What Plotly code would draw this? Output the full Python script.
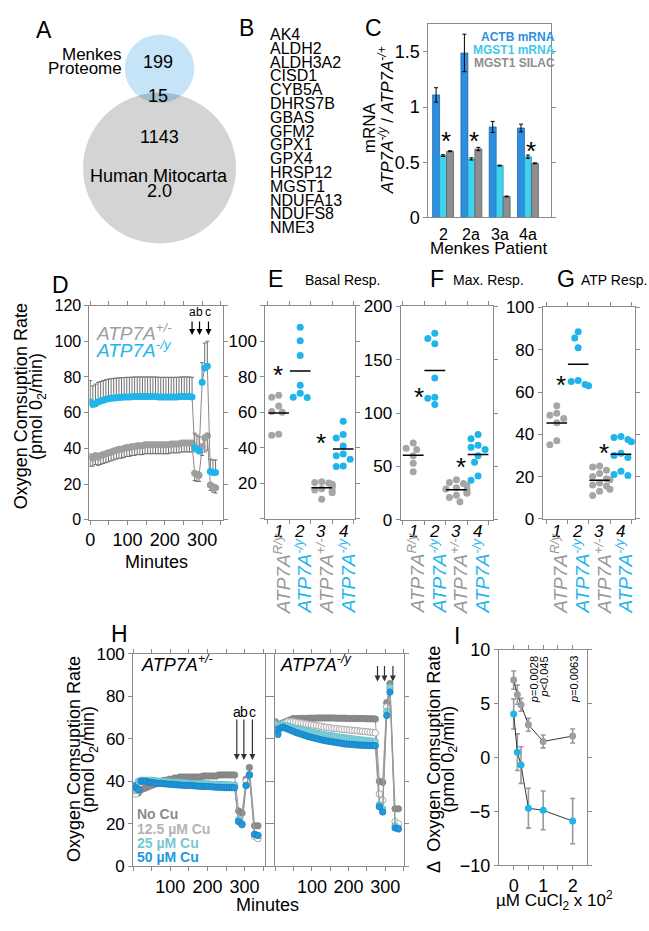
import numpy as np
import plotly.graph_objects as go

W, H = 649, 931
FONT = "Arial, Liberation Sans, sans-serif"
AXC = "#8a8a8a"
GRAY = "#9e9e9e"
BLUE = "#1fb4ea"

# ---------------- data ----------------
venn_counts = [199, 15, 1143]
genes = ["AK4", "ALDH2", "ALDH3A2", "CISD1", "CYB5A", "DHRS7B", "GBAS", "GFM2",
         "GPX1", "GPX4", "HRSP12", "MGST1", "NDUFA13", "NDUFS8", "NME3"]

c_patients = ["2", "2a", "3a", "4a"]
c_actb = [1.11, 1.49, 0.82, 0.81]
c_actb_err = [0.065, 0.17, 0.05, 0.035]
c_mgst1 = [0.56, 0.53, 0.47, 0.55]
c_mgst1_err = [0.008, 0.01, 0.004, 0.015]
c_silac = [0.60, 0.62, 0.19, 0.49]
c_silac_err = [0.004, 0.015, 0.004, 0.004]
c_star_y = [0.75, 0.75, None, 0.66]

d_time = [0, 7, 14, 21, 28, 35, 42, 49, 56, 63, 70, 77, 84, 91, 98, 105, 112, 119, 126, 133,
          140, 147, 154, 161, 168, 175, 182, 189, 196, 203, 210, 217, 224, 231, 238, 245, 252, 259, 266, 273,
          280, 286, 292, 300, 307, 314, 322, 329, 336]
d_het = [35.5, 34.5, 36, 35, 36, 36.5, 37, 37.5, 38, 38.5, 39, 39.5, 39.5, 40, 40.5, 40.5, 41, 41, 41.5, 41.5,
         41.5, 42, 42, 42, 42, 42, 42, 42, 42, 42, 42, 42.5, 42.5, 42.5, 42.5, 43, 43, 43, 43, 43,
         26, 25.5, 25, 41, 46, 47, 19.5, 18.5, 18]
d_het_err = [5.5, 4.5, 5, 4.5, 5, 5, 5, 5, 5, 5, 5, 5, 5, 5, 5, 5, 5, 5, 5, 5,
             5, 5, 5, 5, 5, 5, 5, 5, 5, 5, 5, 5, 5, 5, 5, 5, 5, 5, 5, 5,
             4, 4, 3.5, 5, 8, 8, 3, 3, 3]
d_ko = [66, 64.5, 65, 66, 66.5, 67, 67.5, 67.8, 68, 68.2, 68.4, 68.5, 68.6, 68.7, 68.8, 68.8, 68.9, 69, 69, 69,
        69, 69, 69, 69, 69, 69, 68.8, 68.8, 68.8, 68.8, 68.8, 68.8, 68.8, 68.8, 68.9, 69, 69, 69, 69, 68.8,
        40.5, 39.5, 38.5, 77, 85, 86, 27, 26.5, 26.5]
d_ko_err = [12, 10.5, 11, 11, 11, 11, 11, 11, 11, 11, 11, 11, 11, 11, 11, 11, 11, 11, 11, 11,
            11, 11, 11, 11, 11, 11, 11, 11, 11, 11, 11, 11, 11, 11, 11, 11, 11, 11, 11, 11,
            8, 8, 8, 11, 14, 14, 7, 7, 7]
d_inject = ["a", "b", "c"]
d_inject_time = [273, 293, 317]

groups = ["1", "2", "3", "4"]
group_labels = ["<i>ATP7A<sup>R/y</sup></i>", "<i>ATP7A<sup>-/y</sup></i>",
                "<i>ATP7A<sup>+/-</sup></i>", "<i>ATP7A<sup>-/y</sup></i>"]
group_is_ko = [False, True, False, True]
e_basal = [[69.5, 68.4, 63.5, 60.4, 60, 47.6, 47],
           [107.8, 100.2, 91.9, 75.1, 70.7, 68.4, 68.2],
           [20.9, 20.5, 20.2, 19.4, 19.0, 18.5, 17.5, 16.9, 16.2, 15.5, 14.7, 11.0],
           [54.9, 47.5, 45.5, 41.0, 36.5, 35.5, 33.5, 29.7, 29.5]]
f_max = [[72, 67, 66, 60, 53, 45],
         [175, 170, 165, 133, 115, 114, 108],
         [37.5, 35, 34, 32, 30, 29, 28, 26, 25, 23, 21, 17],
         [80, 76, 70, 68, 66, 60, 54, 41, 37]]
g_atp = [[53.5, 50, 49, 47.5, 45.5, 37, 35],
         [88.5, 85.5, 81, 65.5, 65, 63.5, 63],
         [25, 24.5, 23, 21.5, 20, 19, 18.5, 17, 16, 15.5, 14, 13, 11],
         [39, 38.5, 37.5, 36.5, 31, 30, 29, 22.5, 21, 20.5]]
e_stars = [(0.95, 84.5), (2.95, 46)]
f_stars = [(1.26, 121), (3.23, 55)]
g_stars = [(1.19, 66), (3.2, 34)]

h_time = [0, 7, 14, 21, 28, 35, 42, 49, 56, 63, 70, 77, 84, 91, 98, 105, 112, 119, 126, 133,
          140, 147, 154, 161, 168, 175, 182, 189, 196, 203, 210, 217, 224, 231, 238, 245, 252, 259, 266, 273,
          284, 293, 304, 313, 327, 336]
h_cu = ["No Cu", "12.5 \u00b5M Cu", "25 \u00b5M Cu", "50 \u00b5M Cu"]
h_het = [
    [36, 35, 34.5, 36, 36.5, 37, 37.5, 38, 38.5, 39, 39.5, 40, 40.5, 40.5, 41, 41, 41.5, 41.5, 42, 42,
     42, 42, 42, 42, 42, 42, 42, 42.5, 42.5, 42.5, 42.5, 42.5, 42.5, 43, 43, 43, 43, 43, 43, 43,
     26, 25, 41, 46.5, 19, 19],
    [35, 34, 39.5, 40, 40, 40, 40, 40, 40, 40, 39.8, 39.8, 39.8, 39.6, 39.6, 39.5, 39.5, 39.5, 39.4, 39.3,
     39.2, 39, 39, 39, 39, 38.8, 38.8, 38.8, 38.6, 38.6, 38.5, 38.5, 38.5, 38.4, 38.3, 38.2, 38, 38, 38, 38,
     21, 20, 40, 43, 14, 13],
    [36.5, 35.5, 40, 40.5, 40.5, 40.5, 40.5, 40.5, 40.3, 40.2, 40, 40, 40, 39.8, 39.8, 39.6, 39.5, 39.5, 39.4, 39.3,
     39.2, 39.1, 39, 39, 39, 39, 38.9, 38.8, 38.8, 38.7, 38.6, 38.6, 38.5, 38.5, 38.5, 38.4, 38.4, 38.3, 38.2, 38.2,
     22, 20, 38, 43, 15, 14.5],
    [38, 37, 36, 40, 40, 40, 39.5, 39.5, 39.3, 39, 39, 39, 38.8, 38.7, 38.6, 38.5, 38.4, 38.3, 38.2, 38.1,
     38, 38, 38, 37.9, 37.8, 37.7, 37.6, 37.5, 37.5, 37.5, 37.4, 37.3, 37.2, 37.2, 37.1, 37, 37, 37, 37, 37,
     21, 19.5, 38, 43, 15, 14.5],
]
h_ko = [
    [68, 66, 67, 67.5, 68, 68.5, 69, 69.5, 69.5, 69.5, 69.6, 69.6, 69.6, 69.7, 69.7, 69.7, 69.8, 69.8, 69.8, 69.8,
     69.8, 69.8, 69.8, 69.8, 69.7, 69.7, 69.7, 69.7, 69.6, 69.6, 69.6, 69.6, 69.5, 69.5, 69.5, 69.5, 69.4, 69.4, 69.4, 69.3,
     40, 39.5, 77, 86, 27, 27],
    [66, 64, 66.5, 67, 67.5, 68, 68, 68, 67.8, 67.6, 67.4, 67.2, 67, 66.8, 66.6, 66.4, 66.2, 66, 65.8, 65.6,
     65.4, 65.2, 65, 64.9, 64.8, 64.6, 64.5, 64.4, 64.3, 64.1, 64, 63.9, 63.8, 63.6, 63.5, 63.4, 63.3, 63.1, 63, 62.8,
     34, 31, 75, 84, 21, 20],
    [67, 63, 66, 66.5, 66.2, 66, 65.6, 65.2, 64.9, 64.6, 64.3, 64, 63.7, 63.5, 63.2, 63, 62.7, 62.5, 62.2, 62,
     61.8, 61.6, 61.4, 61.2, 61, 60.8, 60.7, 60.5, 60.3, 60.2, 60, 59.9, 59.7, 59.6, 59.4, 59.3, 59.2, 59, 58.9, 58.7,
     29, 27, 73, 84, 19, 18],
    [64.5, 62, 65, 65.5, 65, 64.5, 64, 63.5, 63, 62.6, 62.2, 61.8, 61.4, 61, 60.7, 60.4, 60.1, 59.8, 59.5, 59.2,
     59, 58.8, 58.6, 58.4, 58.2, 58, 57.8, 57.6, 57.5, 57.4, 57.3, 57.2, 57.1, 57, 57, 56.9, 56.9, 56.8, 56.8, 56.7,
     28, 25.5, 71, 82, 18, 17.5],
]
h_inject_time = [279, 298, 321]

i_cu = [0, 0.125, 0.25, 0.5, 1, 2]
i_het = [7.2, 5.85, 4.9, 3.05, 1.5, 2.0]
i_het_err = [0.85, 0.9, 0.6, 0.6, 0.6, 0.65]
i_ko = [4.05, 0.5, -0.7, -4.7, -4.9, -5.9]
i_ko_err = [1.4, 1.7, 1.7, 1.85, 1.8, 2.1]
i_pvals = [(0.7, "<i>p</i>=0.0028"), (1.02, "<i>p</i>&lt;0.045"), (2.05, "<i>p</i>=0.0063")]

# ---------------- helpers ----------------
def px(x):
    return x / W

def py(y):
    return 1 - y / H

def dom_x(a, b):
    return [a / W, b / W]

def dom_y(top, bot):
    return [1 - bot / H, 1 - top / H]

annotations = []
shapes = []

def txt(x, y, s, size=16, color="black", xanchor="center", yanchor="middle", angle=0, **kw):
    annotations.append(dict(x=px(x), y=py(y), xref="paper", yref="paper", text=s, showarrow=False,
                            font=dict(size=size, color=color, family=FONT), xanchor=xanchor,
                            yanchor=yanchor, textangle=angle, borderpad=0, **kw))

def axis(**kw):
    d = dict(showline=True, linecolor=AXC, linewidth=1, mirror="ticks", ticks="outside", ticklen=4,
             tickcolor=AXC, tickwidth=1, zeroline=False, showgrid=False,
             tickfont=dict(size=17, color="black", family=FONT), fixedrange=True)
    d.update(kw)
    return d

fig = go.Figure()

# ---------------- A: Venn ----------------
c1, r1 = (156.5, 60.0), 35.0
c2, r2 = (156.5, 161.5), 77.0
for (cx, cy), r, col in [(c2, r2, "#d4d4d4"), (c1, r1, "#c6e4f8")]:
    shapes.append(dict(type="circle", xref="paper", yref="paper", x0=px(cx - r), x1=px(cx + r),
                       y0=py(cy + r), y1=py(cy - r), fillcolor=col, line=dict(width=0), layer="below"))
dd = c2[1] - c1[1]
aa = (r1 ** 2 - r2 ** 2 + dd ** 2) / (2 * dd)
hh = np.sqrt(r1 ** 2 - aa ** 2)
yi = c1[1] + aa
t = np.linspace(np.arctan2(aa, hh), np.arctan2(aa, -hh), 40)
pts = [(c1[0] + r1 * np.cos(v), c1[1] + r1 * np.sin(v)) for v in t]
s = np.linspace(np.arctan2(yi - c2[1], -hh), np.arctan2(yi - c2[1], hh), 40)
pts += [(c2[0] + r2 * np.cos(v), c2[1] + r2 * np.sin(v)) for v in s]
path = "M " + " L ".join(f"{px(x):.5f},{py(y):.5f}" for x, y in pts) + " Z"
shapes.append(dict(type="path", xref="paper", yref="paper", path=path, fillcolor="#a3bccc",
                   line=dict(width=0), layer="below"))
txt(40, 20, "A", size=23)
txt(120, 45, "Menkes", size=17, xanchor="right")
txt(120, 60, "Proteome", size=17, xanchor="right")
txt(155, 53, str(venn_counts[0]), size=18)
txt(155, 88, str(venn_counts[1]), size=18)
txt(156, 130, str(venn_counts[2]), size=18)
txt(156, 170, "Human Mitocarta", size=18)
txt(156, 185, "2.0", size=18)

# ---------------- B: gene list ----------------
txt(244, 18, "B", size=23)
for k, g in enumerate(genes):
    txt(267, 25 + k * 14.1, g, size=16, xanchor="left")

# ---------------- C: bars ----------------
txt(372, 18, "C", size=23)
for name, vals, err, col, lc in [("ACTB mRNA", c_actb, c_actb_err, "#2c8fe0", "#1b5f9e"),
                                 ("MGST1 mRNA", c_mgst1, c_mgst1_err, "#3fd2f2", "#2a8fa8"),
                                 ("MGST1 SILAC", c_silac, c_silac_err, "#8e8e8e", "#555555")]:
    fig.add_trace(go.Bar(x=list(range(len(c_patients))), y=vals, name=name,
                         marker=dict(color=col, line=dict(color=lc, width=0.7)),
                         error_y=dict(type="data", array=err, color="black", thickness=1, width=2),
                         xaxis="x", yaxis="y", showlegend=False))
for k, sy in enumerate(c_star_y):
    if sy is not None:
        annotations.append(dict(x=k + 0.1, y=sy, xref="x", yref="y", text="*", showarrow=False,
                                font=dict(size=26, family=FONT, color="black"), yshift=-6))
for k, lab in enumerate(c_patients):
    annotations.append(dict(x=k, y=py(220), xref="x", yref="paper", text=lab, showarrow=False,
                            font=dict(size=16, family=FONT, color="black"), borderpad=0))
txt(555, 28, "<b>ACTB mRNA</b>", size=12, color="#2c8fe0", xanchor="right")
txt(555, 41, "<b>MGST1 mRNA</b>", size=12, color="#3fc8ea", xanchor="right")
txt(555, 54, "<b>MGST1 SILAC</b>", size=12, color="#8e8e8e", xanchor="right")
txt(368, 120, "mRNA", size=17, angle=-90)
txt(384, 113, "<i>ATP7A<sup>-/y</sup></i> / <i>ATP7A<sup>-/+</sup></i>", size=17, angle=-90)
txt(488, 244, "Menkes Patient", size=17)

# ---------------- D ----------------
txt(57, 281, "D", size=23)
fig.add_trace(go.Scatter(x=d_time, y=d_het, mode="lines+markers", line=dict(color="#8a8a8a", width=1),
                         marker=dict(color=GRAY, size=7),
                         error_y=dict(type="data", symmetric=False, array=[0] * len(d_het_err),
                                      arrayminus=d_het_err, color="#707070", thickness=1, width=2),
                         xaxis="x2", yaxis="y2", showlegend=False))
fig.add_trace(go.Scatter(x=d_time, y=d_ko, mode="lines+markers", line=dict(color="#8a8a8a", width=1),
                         marker=dict(color=BLUE, size=7),
                         error_y=dict(type="data", symmetric=False, array=d_ko_err,
                                      arrayminus=[0] * len(d_ko_err), color="#707070", thickness=1, width=2),
                         xaxis="x2", yaxis="y2", showlegend=False))
for lab, tm in zip(d_inject, d_inject_time):
    annotations.append(dict(x=tm, y=103.5, xref="x2", yref="y2", ax=0, ay=-15, text="",
                            showarrow=True, arrowhead=2, arrowsize=1, arrowwidth=1.2, arrowcolor="black"))
    annotations.append(dict(x=tm, y=116.5, xref="x2", yref="y2", text=lab, showarrow=False,
                            font=dict(size=12, family=FONT, color="black"), borderpad=0))
txt(92, 329, "<i>ATP7A<sup>+/-</sup></i>", size=19, color=GRAY, xanchor="left")
txt(92, 346, "<i>ATP7A<sup>-/y</sup></i>", size=19, color=BLUE, xanchor="left")
txt(17, 405, "Oxygen Comsuption Rate", size=18, angle=-90)
txt(34, 405, "(pmol 0<sub>2</sub>/min)", size=18, angle=-90)
txt(153, 564, "Minutes", size=18)

# ---------------- E, F, G ----------------
def swarm(vals, center, ppu_y, ppu_x=21.6, d=7.0):
    order = sorted(range(len(vals)), key=lambda i: -vals[i])
    placed = []
    xs = [0.0] * len(vals)
    cands = [0, -3.5, 3.5, -7, 7, -10.5, 10.5]
    for i in order:
        yy = vals[i] * ppu_y
        for c in cands:
            if all((c - ox) ** 2 + (yy - oy) ** 2 >= d * d for ox, oy in placed):
                break
        placed.append((c, yy))
        xs[i] = center + c / ppu_x
    return xs

panels = [("x3", "y3", e_basal, e_stars, 1.825), ("x4", "y4", f_max, f_stars, 1.0835),
          ("x5", "y5", g_atp, g_stars, 2.16)]
for xa, ya, data, stars, ppu in panels:
    mx, my = [], []
    for k, vals in enumerate(data):
        xs = swarm(vals, k + 1, ppu)
        fig.add_trace(go.Scatter(x=xs, y=vals, mode="markers",
                                 marker=dict(color=BLUE if group_is_ko[k] else "#a6a6a6", size=7),
                                 xaxis=xa, yaxis=ya, showlegend=False))
        m = float(np.mean(vals))
        mx += [k + 1 - 0.48, k + 1 + 0.48, None]
        my += [m, m, None]
    fig.add_trace(go.Scatter(x=mx, y=my, mode="lines", line=dict(color="black", width=1.5),
                             xaxis=xa, yaxis=ya, showlegend=False))
    for sx, sy in stars:
        annotations.append(dict(x=sx, y=sy, xref=xa, yref=ya, text="*", showarrow=False,
                                font=dict(size=26, family=FONT, color="black"), yshift=-6))

cat_px = {"x3": [276.7, 297.7, 319.3, 341.7], "x4": [411.7, 433.3, 455, 476.7], "x5": [556, 577.3, 599, 620.7]}
for xa, cps in cat_px.items():
    for k, cx in enumerate(cps):
        txt(cx, 533, f"<i>{groups[k]}</i>", size=17)
        txt(cx + 3, 618, group_labels[k], size=19, color=BLUE if group_is_ko[k] else "#999999",
            angle=-90, yanchor="bottom")
txt(273, 275, "E", size=23)
txt(341, 276, "Basal Resp.", size=14)
txt(436, 275, "F", size=23)
txt(488, 276, "Max. Resp.", size=14)
txt(565, 275, "G", size=23)
txt(614, 276, "ATP Resp.", size=14)

# ---------------- H ----------------
txt(116, 638, "H", size=23)
h_styles = [dict(color="#8c8c8c", line=dict(color="#7a7a7a", width=0.6)),
            dict(color="white", line=dict(color="#a8a8a8", width=1)),
            dict(color="#7dd2de", line=dict(color="#5ab8c6", width=0.6)),
            dict(color="#1e98de", line=dict(color="#1577b0", width=0.6))]
for xa, ya, series in [("x6", "y6", h_het), ("x7", "y7", h_ko)]:
    for k, vals in enumerate(series):
        fig.add_trace(go.Scatter(x=h_time, y=vals, mode="lines+markers", line=dict(color="#9a9a9a", width=1),
                                 marker=dict(size=6.5, **h_styles[k]), xaxis=xa, yaxis=ya, showlegend=False))
for lab, tm in zip(d_inject, h_inject_time):
    annotations.append(dict(x=tm, y=50, xref="x6", yref="y6", ax=0, ay=-42, text="", showarrow=True,
                            arrowhead=2, arrowsize=1, arrowwidth=1.2, arrowcolor="#333333"))
    annotations.append(dict(x=tm, y=72.5, xref="x6", yref="y6", text=lab, showarrow=False,
                            font=dict(size=14, family=FONT, color="black"), borderpad=0))
    annotations.append(dict(x=tm, y=87, xref="x7", yref="y7", ax=0, ay=-17, text="", showarrow=True,
                            arrowhead=2, arrowsize=1, arrowwidth=1.2, arrowcolor="#333333"))
    annotations.append(dict(x=tm, y=104.5, xref="x7", yref="y7", text=lab, showarrow=False,
                            font=dict(size=14, family=FONT, color="black"), borderpad=0))
txt(137, 668, "<i>ATP7A<sup>+/-</sup></i>", size=18, xanchor="left")
txt(277, 668, "<i>ATP7A<sup>-/y</sup></i>", size=18, xanchor="left")
h_cols = ["#8c8c8c", "#b4b4b4", "#76c8cf", "#1e98de"]
for k, lab in enumerate(h_cu):
    txt(133, 822 + k * 14.7, f"<b>{lab}</b>", size=14, color=h_cols[k], xanchor="left")
txt(70, 766, "Oxygen Comsuption Rate", size=18, angle=-90)
txt(86, 766, "(pmol 0<sub>2</sub>/min)", size=18, angle=-90)
txt(265, 915, "Minutes", size=18)

# ---------------- I ----------------
txt(456, 640, "I", size=23)
fig.add_trace(go.Scatter(x=i_cu, y=i_het, mode="lines+markers", line=dict(color="#222222", width=0.9),
                         marker=dict(color=GRAY, size=7),
                         error_y=dict(type="data", array=i_het_err, color="#999999", thickness=1.6, width=2.5),
                         xaxis="x8", yaxis="y8", showlegend=False))
fig.add_trace(go.Scatter(x=i_cu, y=i_ko, mode="lines+markers", line=dict(color="#222222", width=0.9),
                         marker=dict(color=BLUE, size=7),
                         error_y=dict(type="data", array=i_ko_err, color="#999999", thickness=1.6, width=2.5),
                         xaxis="x8", yaxis="y8", showlegend=False))
for xv, lab in i_pvals:
    annotations.append(dict(x=xv, y=9.5, xref="x8", yref="y8", text=lab, showarrow=False, textangle=-90,
                            yanchor="top", borderpad=0, font=dict(size=11, family=FONT, color="black")))
txt(432, 766, "\u0394  Oxygen Comsuption Rate", size=18, angle=-90)
txt(448, 766, "(pmol 0<sub>2</sub>/min)", size=18, angle=-90)
txt(554, 910, "\u00b5M CuCl<sub>2</sub> x 10<sup>2</sup>", size=17)

# ---------------- layout ----------------
fig.update_layout(
    width=W, height=H, margin=dict(l=0, r=0, t=0, b=0), paper_bgcolor="white", plot_bgcolor="white",
    font=dict(family=FONT, color="black"), barmode="group", bargap=0.26, bargroupgap=0.0,
    annotations=annotations, shapes=shapes,
    xaxis=axis(domain=dom_x(427, 550), anchor="y", range=[-0.52, 3.8], ticks="", mirror=True,
               showticklabels=False),
    yaxis=axis(domain=dom_y(14, 212), anchor="x", range=[0, 1.755], tickvals=[0, 0.5, 1, 1.5],
               ticktext=["0", "0.5", "1", "1.5"], tickfont=dict(size=18, family=FONT, color="black")),
    xaxis2=axis(domain=dom_x(86, 220), anchor="y2", range=[-2, 355], tickvals=[0, 50, 100, 150, 200, 250, 300, 350],
                ticktext=["0", "", "100", "", "200", "", "300", ""], tickfont=dict(size=18, family=FONT, color="black")),
    yaxis2=axis(domain=dom_y(302, 521), anchor="x2", range=[0, 120], dtick=20,
                tickfont=dict(size=16, family=FONT, color="black")),
    xaxis3=axis(domain=dom_x(263, 353), anchor="y3", range=[0.38, 4.54], tickvals=[0.5, 1.5, 2.5, 3.5, 4.5],
                showticklabels=False),
    yaxis3=axis(domain=dom_y(302, 520), anchor="x3", range=[0, 120], tickvals=[0, 20, 40, 60, 80, 100, 120],
                ticktext=["", "20", "40", "60", "80", "100", ""]),
    xaxis4=axis(domain=dom_x(399, 492), anchor="y4", range=[0.415, 4.69], tickvals=[0.5, 1.5, 2.5, 3.5, 4.5],
                showticklabels=False),
    yaxis4=axis(domain=dom_y(303, 521), anchor="x4", range=[0, 200], dtick=50),
    xaxis5=axis(domain=dom_x(542, 635), anchor="y5", range=[0.34, 4.66], tickvals=[0.5, 1.5, 2.5, 3.5, 4.5],
                showticklabels=False),
    yaxis5=axis(domain=dom_y(304, 520), anchor="x5", range=[0, 100], dtick=20),
    xaxis6=axis(domain=dom_x(130, 263), anchor="y6", range=[0, 356], tickvals=[0, 50, 100, 150, 200, 250, 300, 350],
                ticktext=["", "", "100", "", "200", "", "300", ""], tickfont=dict(size=18, family=FONT, color="black")),
    yaxis6=axis(domain=dom_y(658, 875), anchor="x6", range=[0, 100], dtick=20),
    xaxis7=axis(domain=dom_x(273, 402), anchor="y7", range=[0, 350], tickvals=[0, 50, 100, 150, 200, 250, 300, 350],
                ticktext=["", "", "100", "", "200", "", "300", ""], tickfont=dict(size=18, family=FONT, color="black")),
    yaxis7=axis(domain=dom_y(658, 875), anchor="x7", range=[0, 100], dtick=20, showticklabels=False),
    xaxis8=axis(domain=dom_x(498, 587), anchor="y8", range=[-0.5, 2.5], tickvals=[0, 0.5, 1, 1.5, 2],
                ticktext=["0", "", "1", "", "2"], tickfont=dict(size=18, family=FONT, color="black")),
    yaxis8=axis(domain=dom_y(654, 874), anchor="x8", range=[-10, 10], tickvals=[-10, -5, 0, 5, 10],
                tickfont=dict(size=18, family=FONT, color="black")),
)

fig.write_html("out.html", config={"displayModeBar": False},
               post_script="document.body.style.margin='0px';document.body.style.overflow='hidden';")
